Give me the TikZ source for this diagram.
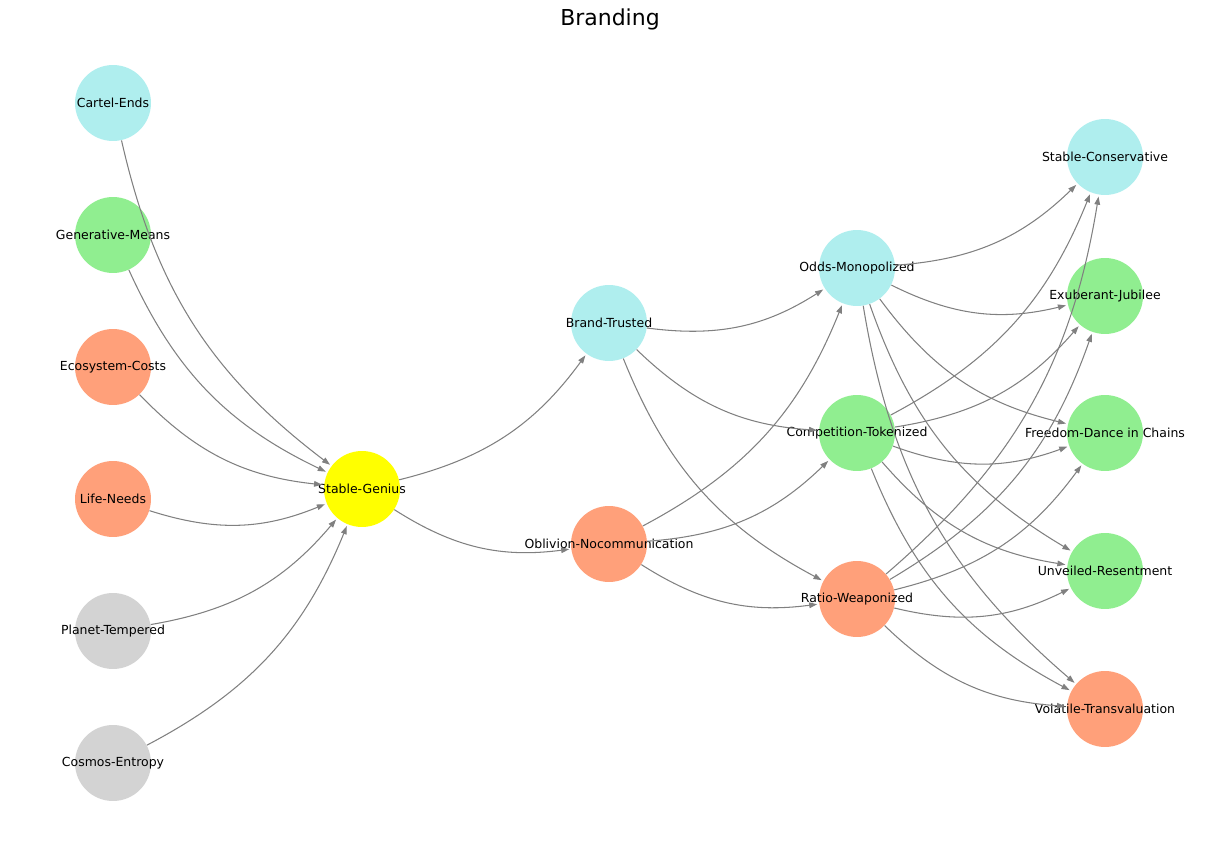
\documentclass[tikz,border=0pt]{standalone}
\usepackage{fontspec}
\setmainfont{DejaVu Sans}
\usepackage{tikz}
\usetikzlibrary{arrows.meta}
\definecolor{bdcyan}{HTML}{AFEEEE}
\definecolor{bdgreen}{HTML}{90EE90}
\definecolor{bdsalmon}{HTML}{FFA07A}
\definecolor{bdgray}{HTML}{D3D3D3}
\definecolor{bdyellow}{HTML}{FFFF00}
\definecolor{bdedge}{HTML}{808080}
\begin{document}
\begin{tikzpicture}[x=0.02cm,y=-0.02cm,
    unit/.style={circle,fill=#1,draw=none,minimum size=1.52cm,inner sep=0pt,
      label={[font=\fontsize{7.1}{8.5}\selectfont,text=black,inner sep=0pt]center:\unittext}},
    flow/.style={-{Triangle[length=4.6pt,width=3.2pt]},bdedge,line width=0.6pt,bend right=20,shorten >=1pt}]
      \useasboundingbox (0,0) rectangle (1220,844);
      \node[font=\fontsize{12.5}{15}\selectfont] (title) at (610,19) {Branding};
      % left column
      \def\unittext{Cartel-Ends}\node[unit=bdcyan] (ce) at (113,103) {};
      \def\unittext{Generative-Means}\node[unit=bdgreen] (gm) at (113,235) {};
      \def\unittext{Ecosystem-Costs}\node[unit=bdsalmon] (ec) at (113,367) {};
      \def\unittext{Life-Needs}\node[unit=bdsalmon] (ln) at (113,499) {};
      \def\unittext{Planet-Tempered}\node[unit=bdgray] (pt) at (113,631) {};
      \def\unittext{Cosmos-Entropy}\node[unit=bdgray] (cen) at (113,763) {};
      % middle
      \def\unittext{Stable-Genius}\node[unit=bdyellow] (sg) at (362,489) {};
      \def\unittext{Brand-Trusted}\node[unit=bdcyan] (bt) at (609,323) {};
      \def\unittext{Oblivion-Nocommunication}\node[unit=bdsalmon] (on) at (609,544) {};
      \def\unittext{Odds-Monopolized}\node[unit=bdcyan] (om) at (857,268) {};
      \def\unittext{Competition-Tokenized}\node[unit=bdgreen] (ct) at (857,433) {};
      \def\unittext{Ratio-Weaponized}\node[unit=bdsalmon] (rw) at (857,599) {};
      % right column
      \def\unittext{Stable-Conservative}\node[unit=bdcyan] (sc) at (1105,157) {};
      \def\unittext{Exuberant-Jubilee}\node[unit=bdgreen] (ej) at (1105,296) {};
      \def\unittext{Freedom-Dance in Chains}\node[unit=bdgreen] (fd) at (1105,433) {};
      \def\unittext{Unveiled-Resentment}\node[unit=bdgreen] (ur) at (1105,571) {};
      \def\unittext{Volatile-Transvaluation}\node[unit=bdsalmon] (vt) at (1105,709) {};
      % edges
      \draw[flow] (ce) to (sg);
      \draw[flow] (gm) to (sg);
      \draw[flow] (ec) to (sg);
      \draw[flow] (ln) to (sg);
      \draw[flow] (pt) to (sg);
      \draw[flow] (cen) to (sg);
      \draw[flow] (sg) to (bt);
      \draw[flow] (sg) to (on);
      \draw[flow] (bt) to (om);
      \draw[flow] (bt) to (ct);
      \draw[flow] (bt) to (rw);
      \draw[flow] (on) to (om);
      \draw[flow] (on) to (ct);
      \draw[flow] (on) to (rw);
      \draw[flow] (om) to (sc);
      \draw[flow] (om) to (ej);
      \draw[flow] (om) to (fd);
      \draw[flow] (om) to (ur);
      \draw[flow] (om) to (vt);
      \draw[flow] (ct) to (sc);
      \draw[flow] (ct) to (ej);
      \draw[flow] (ct) to (fd);
      \draw[flow] (ct) to (ur);
      \draw[flow] (ct) to (vt);
      \draw[flow] (rw) to (sc);
      \draw[flow] (rw) to (ej);
      \draw[flow] (rw) to (fd);
      \draw[flow] (rw) to (ur);
      \draw[flow] (rw) to (vt);
    \end{tikzpicture}
\end{document}
